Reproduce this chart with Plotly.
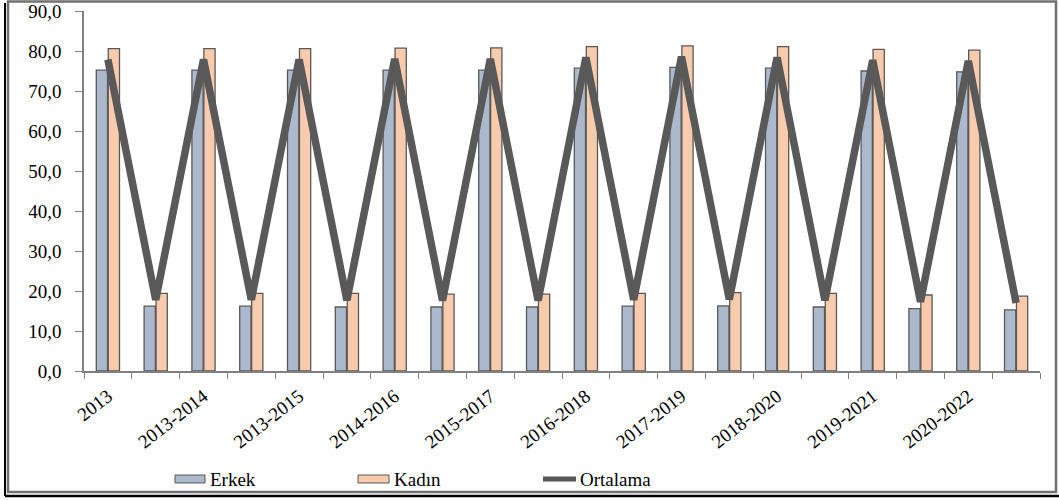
import plotly.graph_objects as go

periods = ["2013", "2013-2014", "2013-2015", "2014-2016", "2015-2017",
           "2016-2018", "2017-2019", "2018-2020", "2019-2021", "2020-2022"]
# values at birth (labelled category) and at age 65 (unlabelled category)
erkek_birth = [75.2, 75.2, 75.2, 75.2, 75.2, 75.7, 75.9, 75.7, 75.0, 74.8]
erkek_65 = [16.2, 16.2, 16.0, 16.0, 16.0, 16.2, 16.3, 16.0, 15.6, 15.3]
kadin_birth = [80.6, 80.6, 80.6, 80.7, 80.8, 81.1, 81.3, 81.1, 80.4, 80.2]
kadin_65 = [19.4, 19.4, 19.4, 19.2, 19.2, 19.4, 19.6, 19.4, 19.0, 18.7]
ortalama_birth = [77.9, 77.9, 77.9, 78.0, 78.0, 78.4, 78.6, 78.4, 77.7, 77.5]
ortalama_65 = [17.8, 17.8, 17.7, 17.6, 17.6, 17.8, 17.9, 17.7, 17.3, 17.0]

cats, erkek, kadin, ortalama = [], [], [], []
for i, p in enumerate(periods):
    cats += [p, "\u200b" * (i + 1)]
    erkek += [erkek_birth[i], erkek_65[i]]
    kadin += [kadin_birth[i], kadin_65[i]]
    ortalama += [ortalama_birth[i], ortalama_65[i]]

FONT = "Liberation Serif"
EDGE = "#595959"

fig = go.Figure()
fig.add_trace(go.Bar(x=cats, y=erkek, name="Erkek", marker=dict(color="#acb8cc", line=dict(color=EDGE, width=1.3)), showlegend=False))
fig.add_trace(go.Bar(x=cats, y=kadin, name="Kadın", marker=dict(color="#f8cbad", line=dict(color=EDGE, width=1.3)), showlegend=False))
fig.add_trace(go.Scatter(x=cats, y=ortalama, name="Ortalama", mode="lines", line=dict(color=EDGE, width=7.5), showlegend=False))

L, R, T, B = 84, 19, 11, 129
W, H = 1059, 500
pw, ph = W - L - R, H - T - B
def px(x): return (x - L) / pw
def py(y): return (H - B - y) / ph

shapes = [
    dict(type="rect", xref="paper", yref="paper", x0=px(8), x1=px(1056), y0=py(492), y1=py(1.5),
         line=dict(color="#707070", width=2.5)),
    dict(type="line", xref="paper", yref="paper", x0=px(5), x1=px(5), y0=py(3), y1=py(496),
         line=dict(color="#000000", width=2)),
    dict(type="line", xref="paper", yref="paper", x0=px(5), x1=px(1059), y0=py(496), y1=py(496),
         line=dict(color="#000000", width=2.5)),
    # legend symbols
    dict(type="rect", xref="paper", yref="paper", x0=px(175), x1=px(205), y0=py(483), y1=py(475),
         fillcolor="#acb8cc", line=dict(color=EDGE, width=1)),
    dict(type="rect", xref="paper", yref="paper", x0=px(358), x1=px(389), y0=py(483), y1=py(475),
         fillcolor="#f8cbad", line=dict(color=EDGE, width=1)),
    dict(type="line", xref="paper", yref="paper", x0=px(543), x1=px(576), y0=py(479), y1=py(479),
         line=dict(color=EDGE, width=5)),
]
annotations = []
for xx, t in [(208, "Erkek"), (392, "Kadın"), (578, "Ortalama")]:
    annotations.append(dict(xref="paper", yref="paper", x=px(xx), y=py(479), text=t, showarrow=False,
                            xanchor="left", yanchor="middle", font=dict(family=FONT, size=19, color="#000000")))

fig.update_layout(
    width=W, height=H, margin=dict(l=L, r=R, t=T, b=B, autoexpand=False),
    paper_bgcolor="white", plot_bgcolor="white",
    barmode="group", bargap=0.5, bargroupgap=0.06,
    separators=",.",
    font=dict(family=FONT, size=17, color="#000000"),
    shapes=shapes, annotations=annotations,
    xaxis=dict(type="category", categoryorder="array", categoryarray=cats, automargin=False,
               tickson="boundaries", ticks="outside", ticklen=6, tickcolor="#808080",
               showline=True, linecolor="#808080", linewidth=1.5, showgrid=False,
               tickangle=-38, ticklabelstandoff=5, tickfont=dict(family=FONT, size=19)),
    yaxis=dict(range=[0, 90], dtick=10, tickformat=".1f", ticks="outside", ticklen=7, automargin=False,
               tickcolor="#808080", showline=True, linecolor="#808080", linewidth=1.5,
               showgrid=False, zeroline=False, ticklabelstandoff=10,
               tickfont=dict(family=FONT, size=19)),
)
fig.write_html("out.html", config={"displayModeBar": False},
               post_script="document.body.style.margin='0';document.body.style.padding='0';document.body.style.overflow='hidden';")
